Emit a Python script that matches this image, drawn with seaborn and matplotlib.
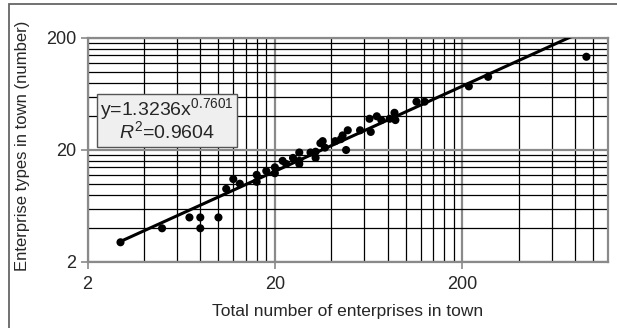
import matplotlib
matplotlib.use("Agg")
import matplotlib.pyplot as plt
import matplotlib.ticker as mticker
from matplotlib import font_manager
from matplotlib.patches import Rectangle
import numpy as np
import pandas as pd
import seaborn as sns

# ---- data ----
total_enterprises = [3, 5, 7, 8, 8, 10, 11, 12, 13, 16, 16, 18, 20, 20, 22, 23, 25,
                     27, 27, 27, 31, 33, 33, 35, 36, 37, 42, 45, 46, 48, 49, 57, 64,
                     65, 70, 74, 82, 87, 88, 114, 126, 217, 275, 920]
enterprise_types = [3, 4, 5, 5, 4, 5, 9, 11, 10, 10.4, 12, 13, 14, 12.4, 16, 15, 17,
                    19, 16, 15, 19, 17, 19.3, 23, 24, 21, 24, 25, 27, 20, 30, 30, 38,
                    29, 40, 37, 38, 43, 37, 54, 54, 74, 90, 136]
fit_coef = 1.3236
fit_exp = 0.7601
fit_r2 = 0.9604
x_ticks = [2, 20, 200]
y_ticks = [2, 20, 200]
x_label = "Total number of enterprises in town"
y_label = "Enterprise types in town (number)"

sns.set_theme(style="white")
names = {f.name for f in font_manager.fontManager.ttflist}
base_font = "Liberation Sans Narrow" if "Liberation Sans Narrow" in names else "Liberation Sans"
plt.rcParams["font.family"] = [base_font, "DejaVu Sans"]
plt.rcParams["mathtext.fontset"] = "custom"
plt.rcParams["mathtext.rm"] = base_font
plt.rcParams["mathtext.it"] = base_font + ":italic"

W, H = 617, 328
fig = plt.figure(figsize=(W / 100, H / 100), dpi=100)

# outer frame (cropped at right/bottom in reference)
fig.add_artist(Rectangle((9 / W, -0.1), 1.2, 1 - 4 / H + 0.1, transform=fig.transFigure,
                         fill=False, edgecolor="#666666", lw=1.3))

L, R, T, B = 87.5, 608, 38, 262
ax = fig.add_axes([L / W, 1 - B / H, (R - L) / W, (B - T) / H])
ax.set_xscale("log")
ax.set_yscale("log")
ax.set_xlim(2, 1200)
ax.set_ylim(2, 200)

ax.xaxis.set_major_locator(mticker.FixedLocator(x_ticks))
ax.yaxis.set_major_locator(mticker.FixedLocator(y_ticks))
xminor = [m * d for d in (2, 20) for m in (2, 3, 4, 5, 6, 7, 8, 9)] + [400, 600, 800, 1000]
yminor = [m * d for d in (2, 20) for m in (2, 3, 4, 5, 6, 7, 8, 9)]
ax.xaxis.set_minor_locator(mticker.FixedLocator(xminor))
ax.yaxis.set_minor_locator(mticker.FixedLocator(yminor))
ax.xaxis.set_major_formatter(mticker.FixedFormatter([str(v) for v in x_ticks]))
ax.yaxis.set_major_formatter(mticker.FixedFormatter([str(v) for v in y_ticks]))
ax.xaxis.set_minor_formatter(mticker.NullFormatter())
ax.yaxis.set_minor_formatter(mticker.NullFormatter())

ax.grid(which="minor", color="black", lw=0.9)
ax.grid(which="major", color="#8a8a8a", lw=1.6)
ax.set_axisbelow(True)
for s in ax.spines.values():
    s.set_color("#8a8a8a")
    s.set_linewidth(1.6)
ax.tick_params(which="major", length=5, width=1.2, color="#8a8a8a",
               labelsize=13, direction="out", left=True, bottom=True)
ax.tick_params(axis="x", which="major", pad=5)
ax.tick_params(axis="y", which="major", pad=3)
ax.tick_params(which="minor", length=0)

df = pd.DataFrame({"total": total_enterprises, "types": enterprise_types})
sns.scatterplot(data=df, x="total", y="types", ax=ax, color="black",
                s=34, edgecolor="none", zorder=3, legend=False)

# power-law trend line from the reported coefficients
xfit = np.array([min(total_enterprises), 1200.0])
yfit = fit_coef * xfit ** fit_exp
ax.plot(xfit, yfit, color="black", lw=2.2, zorder=4, solid_capstyle="butt")

ax.set_xlabel(x_label, fontsize=12.5, labelpad=8)
ax.set_ylabel(y_label, fontsize=12)
ax.yaxis.set_label_coords((30 - L) / (R - L), (B - 146) / (B - T))

# equation box
bx0, by0, bx1, by1 = 97, 94, 237, 147
fig.add_artist(Rectangle((bx0 / W, 1 - by1 / H), (bx1 - bx0) / W, (by1 - by0) / H,
                         transform=fig.transFigure, facecolor="#efefef",
                         edgecolor="#555555", lw=1.0, zorder=5))
fig.text(167 / W, 1 - 109 / H, "y=%.4fx$^{%.4f}$" % (fit_coef, fit_exp),
         ha="center", va="center", fontsize=14, zorder=6)
fig.text(167 / W, 1 - 131 / H, "$R^2$=%.4f" % fit_r2,
         ha="center", va="center", fontsize=14, zorder=6)

fig.savefig("out.png", dpi=100)
